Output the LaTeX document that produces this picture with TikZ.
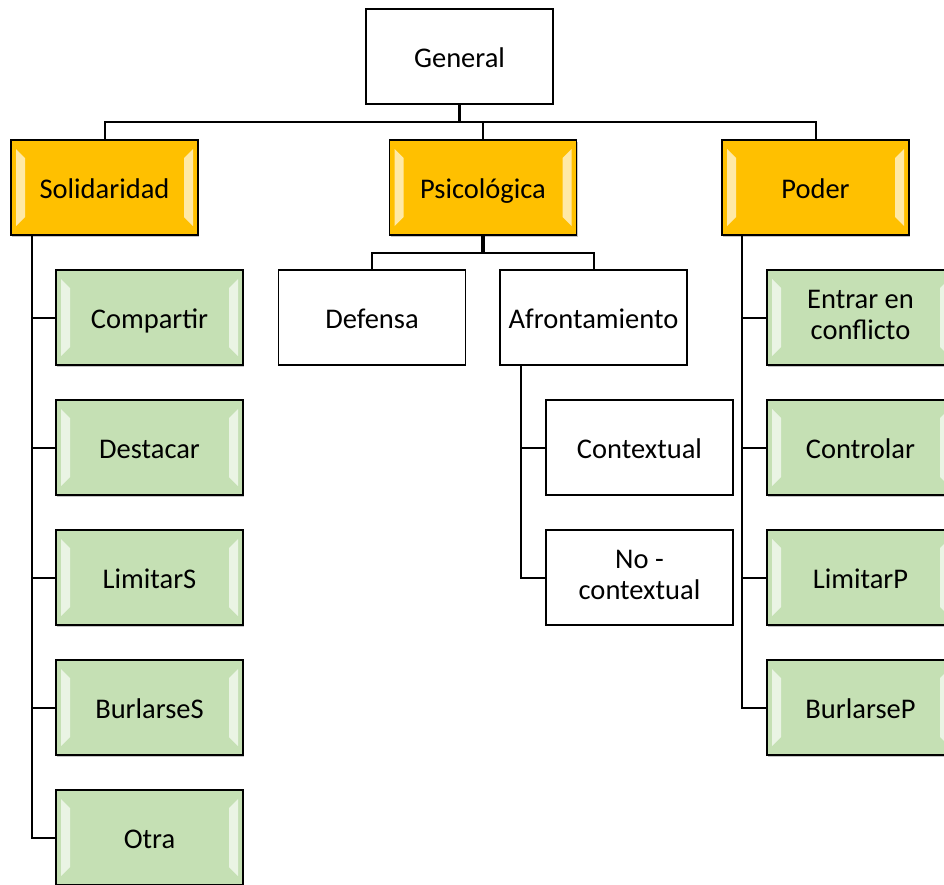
\documentclass[tikz,border=0pt]{standalone}
\usepackage{fontspec}
\setmainfont{Carlito}
\usepackage{xcolor}
\usepackage{tikz}
\usetikzlibrary{positioning, calc, shadows}
\definecolor{catgold}{RGB}{255, 192, 0}
\definecolor{subgreen}{RGB}{197, 224, 180}
\definecolor{linkblack}{RGB}{0, 0, 0}

% same line height in every box
\newcommand{\boxstrut}{\rule[-5.5pt]{0pt}{32pt}}

% light bevel strips on the left and right side of a node
\newcommand{\bevelbox}[1]{%
  \fill[white, fill opacity=0.65] ($(#1.north west)+(5pt,-9pt)$) -- ($(#1.north west)+(14pt,-18pt)$)
    -- ($(#1.south west)+(14pt,18pt)$) -- ($(#1.south west)+(5pt,9pt)$) -- cycle;
  \fill[white, fill opacity=0.65] ($(#1.north east)+(-5pt,-9pt)$) -- ($(#1.north east)+(-14pt,-18pt)$)
    -- ($(#1.south east)+(-14pt,18pt)$) -- ($(#1.south east)+(-5pt,9pt)$) -- cycle;
}

\begin{document}
\begin{tikzpicture}[
    plain/.style={rectangle, draw=black, fill=white, line width=1.2pt, minimum width=187pt, minimum height=95pt, inner sep=2pt, outer sep=0pt, align=center, font=\fontsize{28.5}{31}\selectfont, execute at begin node=\boxstrut, execute at end node=\boxstrut},
    category/.style={plain, fill=catgold, drop shadow={shadow xshift=1pt, shadow yshift=-1.5pt, opacity=0.45}},
    leaf/.style={plain, fill=subgreen, drop shadow={shadow xshift=1pt, shadow yshift=-1.5pt, opacity=0.45}},
    link/.style={draw=linkblack, line width=2pt},
    stem/.style={draw=linkblack, line width=3.6pt}
]
\useasboundingbox (0,0) rectangle (944pt,-884pt);

% Root
\node[plain] (general) at (459.5pt,-56.5pt) {General};

% Categories
\node[category] (solid) at (104.5pt,-187.5pt) {Solidaridad};
\node[category] (psico) at (483pt,-187.5pt) {Psicológica};
\node[category] (poder) at (815.5pt,-187.5pt) {Poder};

% Solidaridad
\node[leaf, below=35pt of solid, xshift=45pt] (compartir) {Compartir};
\node[leaf, below=35pt of compartir] (destacar) {Destacar};
\node[leaf, below=35pt of destacar] (limitars) {LimitarS};
\node[leaf, below=35pt of limitars] (burlarses) {BurlarseS};
\node[leaf, below=35pt of burlarses] (otra) {Otra};

% Psicologica
\node[plain] (defensa) at (372pt,-317.5pt) {Defensa};
\node[plain] (afront) at (593.5pt,-317.5pt) {Afrontamiento};
\node[plain, below=35pt of afront, xshift=46pt] (context) {Contextual};
\node[plain, below=35pt of context] (nocontext) {No -\\contextual};

% Poder
\node[leaf, below=35pt of poder, xshift=45pt] (conflicto) {Entrar en\\conflicto};
\node[leaf, below=35pt of conflicto] (controlar) {Controlar};
\node[leaf, below=35pt of controlar] (limitarp) {LimitarP};
\node[leaf, below=35pt of limitarp] (burlarsep) {BurlarseP};

\foreach \n in {solid, psico, poder, compartir, destacar, limitars, burlarses, otra, conflicto, controlar, limitarp, burlarsep}
  \bevelbox{\n};

% Root to categories
\draw[stem] (general.south) -- ++(0,-18pt) coordinate (rootbus);
\draw[link] (solid.north) -- ++(0,18pt) -| (poder.north);
\draw[link] (rootbus) -| (psico.north);

% Psicologica branches
\draw[stem] (psico.south) -- ++(0,-18pt) coordinate (psicobus);
\draw[link] (defensa.north) -- ++(0,17pt) -| (afront.north);

% Side rails
\coordinate (solrail) at ([xshift=21pt]solid.south west);
\coordinate (podrail) at ([xshift=20pt]poder.south west);
\coordinate (afrrail) at ([xshift=21pt]afront.south west);
\foreach \c in {compartir, destacar, limitars, burlarses, otra}
  \draw[link] (solrail) |- (\c.west);
\foreach \c in {conflicto, controlar, limitarp, burlarsep}
  \draw[link] (podrail) |- (\c.west);
\foreach \c in {context, nocontext}
  \draw[link] (afrrail) |- (\c.west);

\end{tikzpicture}
\end{document}
